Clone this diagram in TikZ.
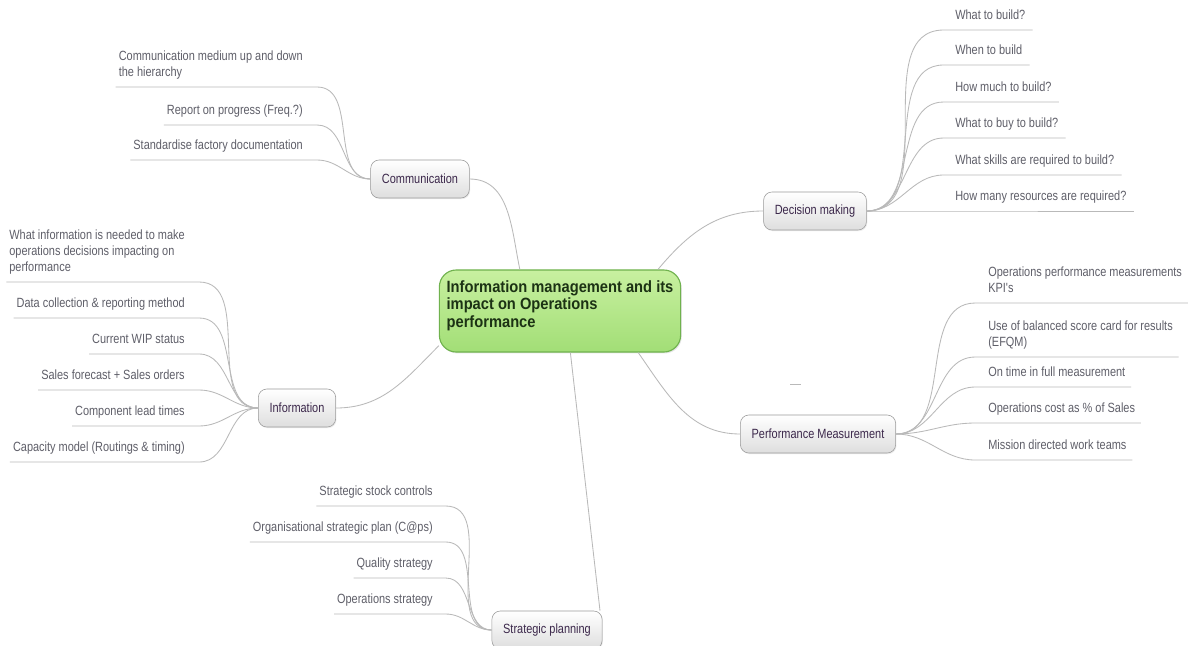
\documentclass[tikz,border=0pt]{standalone}
\usepackage{fontspec}
\setmainfont{Liberation Sans}
\newfontfamily\leaffam[FakeStretch=0.82]{Liberation Sans}
\newfontfamily\centrefam[FakeStretch=0.9]{Liberation Sans}
\usepackage{xcolor}
\definecolor{mmleaf}{RGB}{95,95,105}
\definecolor{mmline}{RGB}{185,185,185}
\definecolor{mmbox}{RGB}{155,155,155}
\definecolor{mmboxfill}{RGB}{222,222,222}
\definecolor{mmbranch}{RGB}{60,40,75}
\definecolor{mmgreen}{RGB}{112,178,78}
\definecolor{mmgreentop}{RGB}{200,240,160}
\definecolor{mmgreenbot}{RGB}{162,222,118}
\definecolor{mmgreentext}{RGB}{28,50,20}
\usetikzlibrary{shadows}
\newcommand{\leaffont}{\leaffam\fontsize{9.5}{11.5}\selectfont}

\tikzset{
  topic/.style={draw=mmbox, rounded corners=6pt, top color=white, bottom color=mmboxfill,
    font=\leaffont, text=mmbranch, inner xsep=8pt, minimum height=0.95cm,
    drop shadow={shadow xshift=0.6pt, shadow yshift=-0.8pt, opacity=0.15}},
  leafL/.style={anchor=south east, font=\leaffont, text=mmleaf, align=left,
    inner xsep=0pt, inner ysep=5pt, text depth=2pt},
  leafR/.style={leafL, anchor=south west},
  link/.style={draw=mmline, line width=0.6pt},
}

\begin{document}
\begin{tikzpicture}[x=0.025cm, y=0.025cm]
  % Canvas
  \clip (0,0) rectangle (1195,-645);
  \fill[white] (0,0) rectangle (1195,-645);

  % --- Central topic ---
  \node[draw=mmgreen, line width=0.8pt, rounded corners=12pt,
    top color=mmgreentop, bottom color=mmgreenbot,
    font=\centrefam\fontsize{11.6}{12.4}\selectfont\bfseries, text=mmgreentext, align=left,
    minimum width=6.03cm, minimum height=2.05cm, text depth=10pt,
    drop shadow={shadow xshift=0.8pt, shadow yshift=-1pt, opacity=0.2}]
    (imc) at (560,-311) {Information management and its\\impact on Operations\\performance};

  % --- Main topics ---
  \node[topic] (comm) at (420,-179) {Communication};
  \node[topic] (info) at (297,-408) {Information};
  \node[topic] (sp)   at (547,-630) {Strategic planning};
  \node[topic] (dm)   at (815,-211) {Decision making};
  \node[topic] (pm)   at (818,-434) {Performance Measurement};

  % Links to the centre
  \draw[link] (comm.east) to[out=0, in=102] (imc.134);
  \draw[link] (info.east) to[out=0, in=225] (imc.196);
  \draw[link] (sp.20) -- (imc.-76);
  \draw[link] (imc.23) to[out=50, in=180] (dm.west);
  \draw[link] (imc.-28) to[out=-55, in=180] (pm.west);

  % --- Communication ---
  \node[leafL] (c1) at (303,-87)  {Communication medium up and down\\the hierarchy};
  \node[leafL] (c2) at (303,-125) {Report on progress (Freq.?)};
  \node[leafL] (c3) at (303,-160) {Standardise factory documentation};
  \foreach \n in {c1,c2,c3}
    \draw[link] ([xshift=-2pt]\n.south west) -- ([xshift=10pt]\n.south east)
      to[out=0, in=180] (comm.west);

  % --- Information ---
  \node[leafL] (i1) at (185,-282) {What information is needed to make\\operations decisions impacting on\\performance};
  \node[leafL] (i2) at (185,-318) {Data collection \& reporting method};
  \node[leafL] (i3) at (185,-354) {Current WIP status};
  \node[leafL] (i4) at (185,-390) {Sales forecast + Sales orders};
  \node[leafL] (i5) at (185,-426) {Component lead times};
  \node[leafL] (i6) at (185,-462) {Capacity model (Routings \& timing)};
  \foreach \n in {i1,i2,i3,i4,i5,i6}
    \draw[link] ([xshift=-2pt]\n.south west) -- ([xshift=10pt]\n.south east)
      to[out=0, in=180] (info.west);

  % --- Strategic planning ---
  \node[leafL] (s1) at (433,-506) {Strategic stock controls};
  \node[leafL] (s2) at (433,-542) {Organisational strategic plan (C@ps)};
  \node[leafL] (s3) at (433,-578) {Quality strategy};
  \node[leafL] (s4) at (433,-614) {Operations strategy};
  \foreach \n in {s1,s2,s3,s4}
    \draw[link] ([xshift=-2pt]\n.south west) -- ([xshift=9pt]\n.south east)
      to[out=0, in=180] (sp.west);

  % --- Decision making ---
  \node[leafR] (d1) at (955,-30)  {What to build?};
  \node[leafR] (d2) at (955,-65)  {When to build};
  \node[leafR] (d3) at (955,-102) {How much to build?};
  \node[leafR] (d4) at (955,-138) {What to buy to build?};
  \node[leafR] (d5) at (955,-175) {What skills are required to build?};
  \node[leafR] (d6) at (955,-211) {How many resources are required?};
  \foreach \n in {d1,d2,d3,d4,d5,d6}
    \draw[link] (dm.east) to[out=0, in=180] ([xshift=-8pt]\n.south west)
      -- ([xshift=5pt]\n.south east);

  % --- Performance Measurement ---
  \node[leafR] (p1) at (988,-303) {Operations performance measurements\\KPI's};
  \node[leafR] (p2) at (988,-357) {Use of balanced score card for results\\(EFQM)};
  \node[leafR] (p3) at (988,-387) {On time in full measurement};
  \node[leafR] (p4) at (988,-423) {Operations cost as \% of Sales};
  \node[leafR] (p5) at (988,-460) {Mission directed work teams};
  \foreach \n in {p1,p2,p3,p4,p5}
    \draw[link] (pm.east) to[out=0, in=180] ([xshift=-9pt]\n.south west)
      -- ([xshift=4pt]\n.south east);

  % stray mark
  \draw[mmline] (790,-384) -- (801,-384);
\end{tikzpicture}
\end{document}
